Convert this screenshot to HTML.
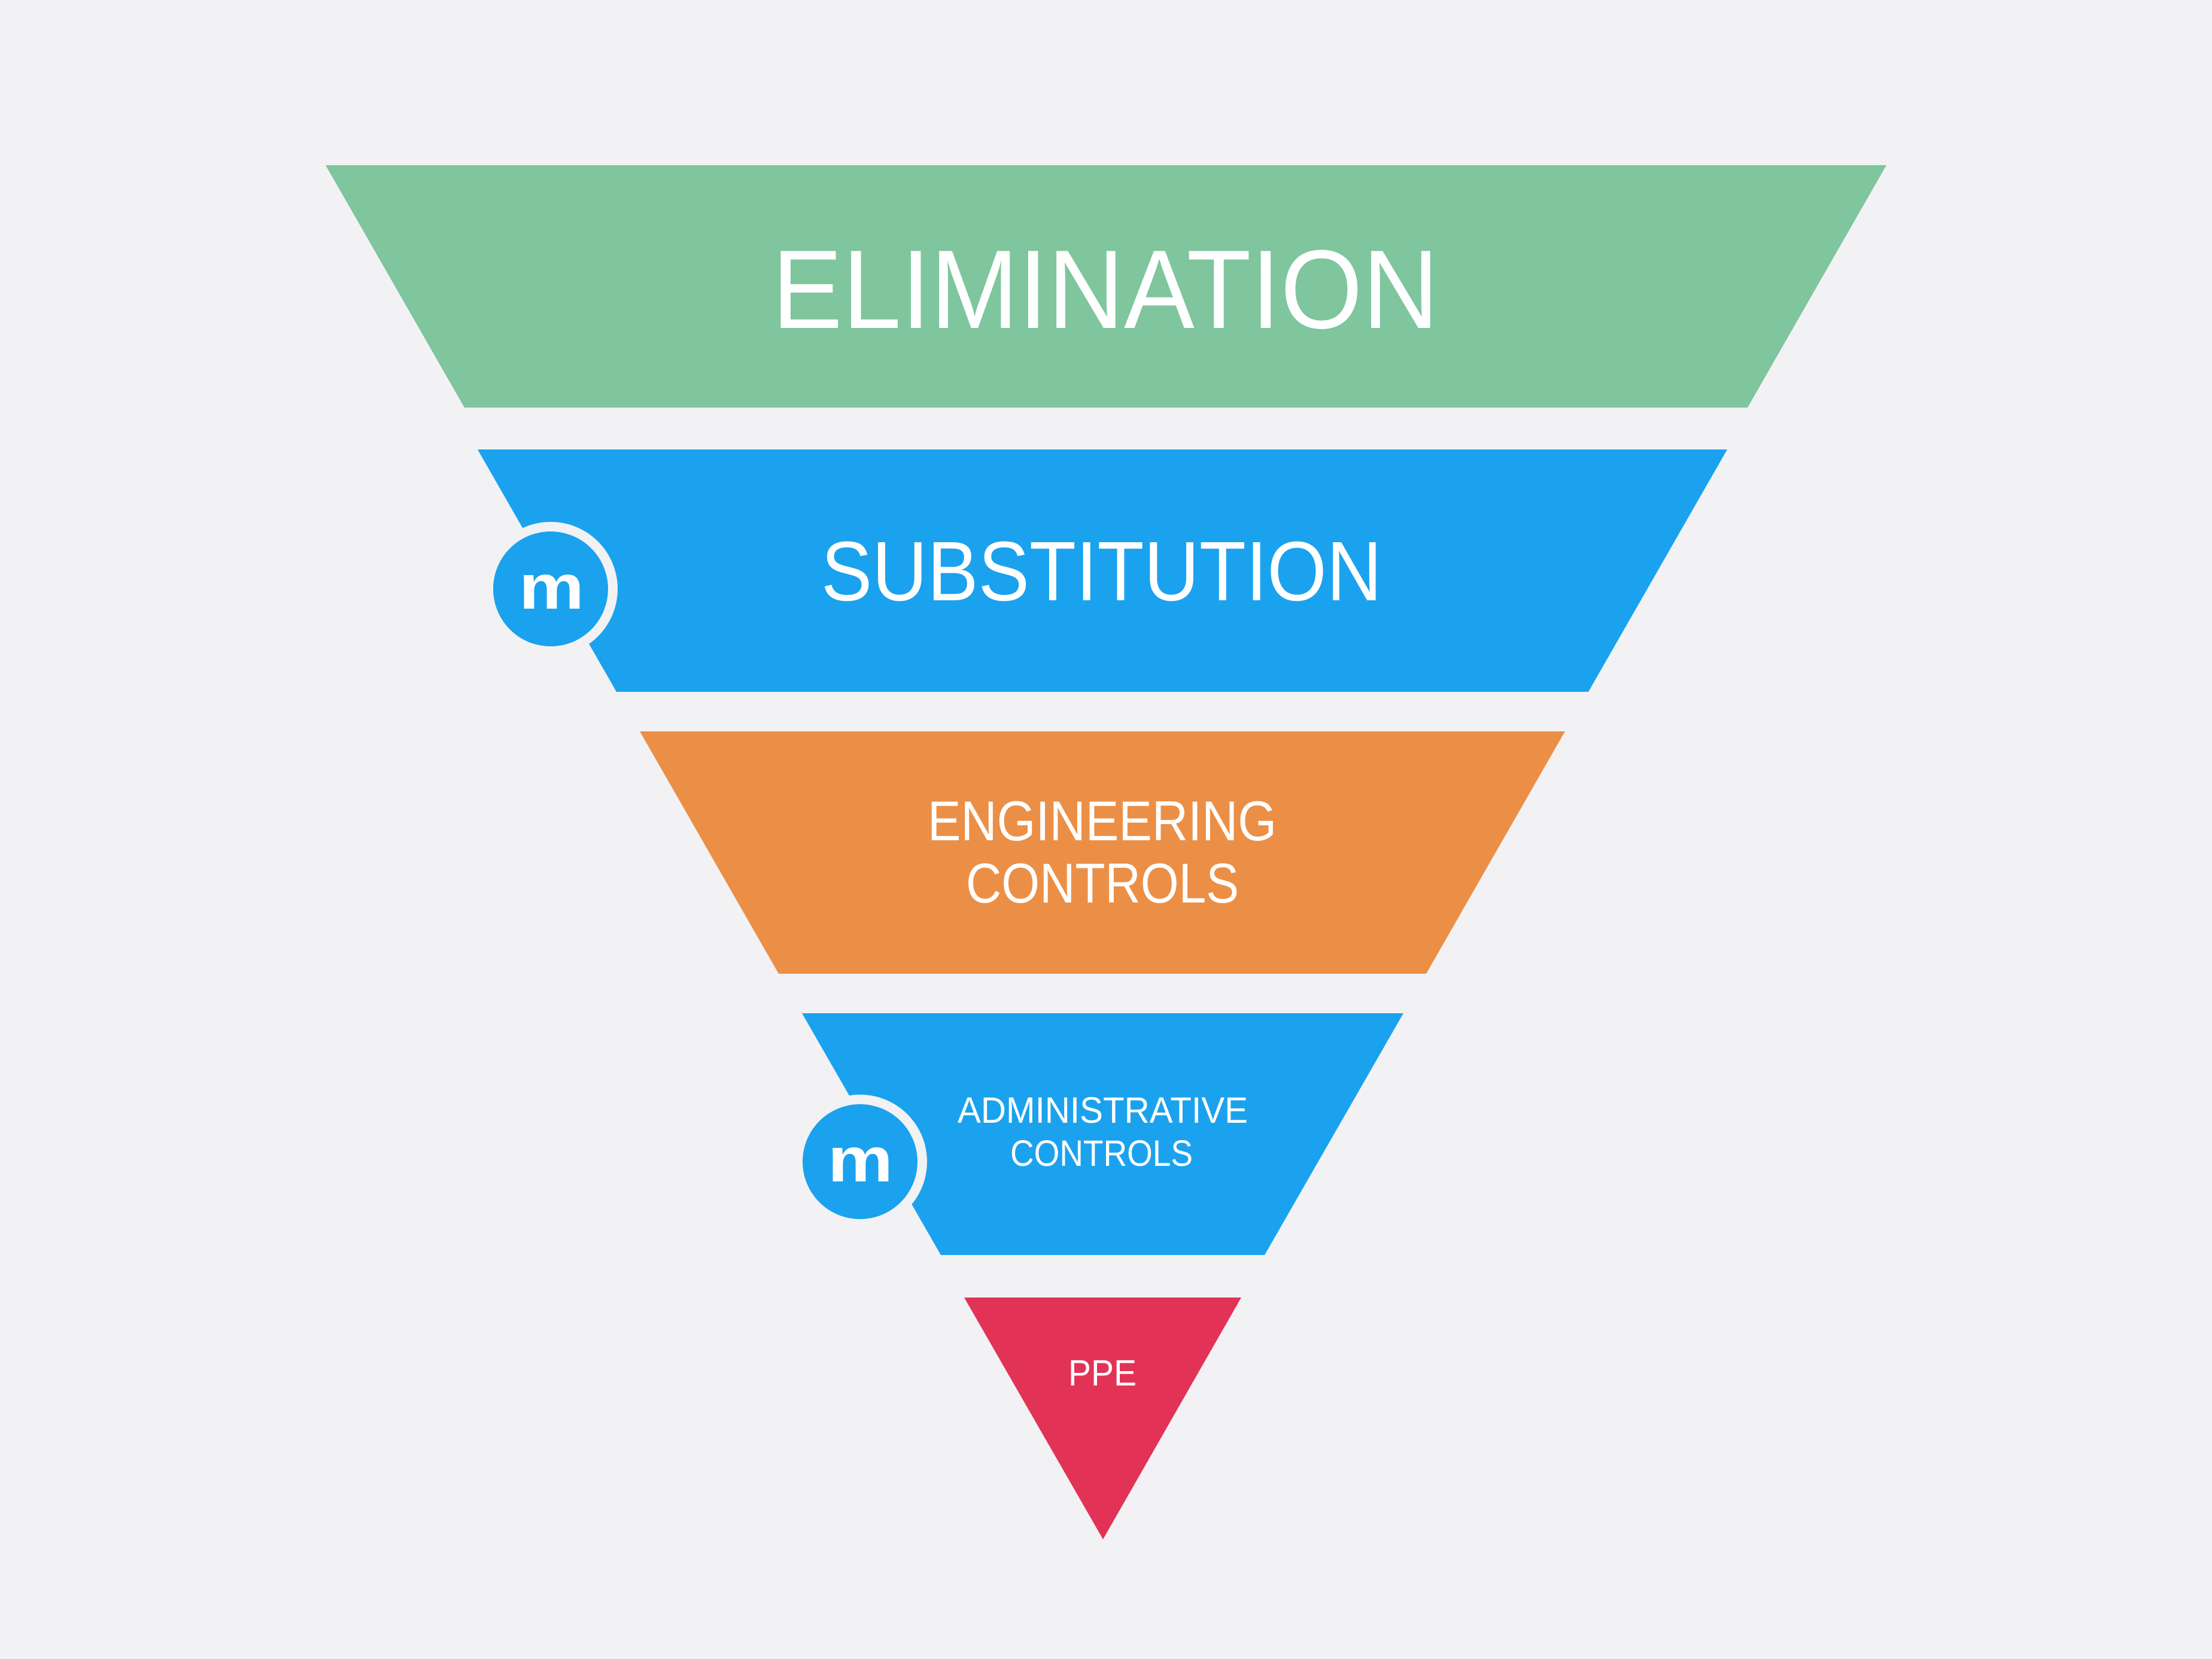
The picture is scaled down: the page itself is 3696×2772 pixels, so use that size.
<!DOCTYPE html>
<html>
<head>
<meta charset="utf-8">
<style>
  html, body { margin:0; padding:0; background:#f2f2f4; }
  body { width:3696px; height:2772px; overflow:hidden; }
  svg { display:block; }
  text { font-family: "Liberation Sans", "DejaVu Sans", sans-serif; fill:#ffffff; }
</style>
</head>
<body>
<svg width="3696" height="2772" viewBox="0 0 3696 2772" xmlns="http://www.w3.org/2000/svg">
  <rect x="0" y="0" width="3696" height="2772" fill="#f2f2f4"/>

  <!-- Elimination -->
  <polygon points="544,276 3152,276 2920,681 776,681" fill="#7fc59d"/>
  <text x="1290" y="548" font-size="187" textLength="1114" lengthAdjust="spacingAndGlyphs">ELIMINATION</text>

  <!-- Substitution -->
  <polygon points="798,751 2886,751 2654,1156 1030,1156" fill="#1ba2ee"/>
  <text x="1372" y="1003" font-size="141" textLength="937" lengthAdjust="spacingAndGlyphs">SUBSTITUTION</text>
  <circle cx="920" cy="984" r="112" fill="#f2f2f4"/>
  <circle cx="920" cy="984" r="96" fill="#1ba2ee"/>
  <text x="867" y="1017" font-size="106" font-weight="bold" textLength="109" lengthAdjust="spacingAndGlyphs">m</text>

  <!-- Engineering controls -->
  <polygon points="1069,1222 2615,1222 2383,1627 1301,1627" fill="#ec8f46"/>
  <text x="1550" y="1404" font-size="93.6" textLength="583" lengthAdjust="spacingAndGlyphs">ENGINEERING</text>
  <text x="1614" y="1508" font-size="93.6" textLength="456" lengthAdjust="spacingAndGlyphs">CONTROLS</text>

  <!-- Administrative controls -->
  <polygon points="1340,1693 2345,1693 2113,2097 1572,2097" fill="#1ba2ee"/>
  <text x="1600" y="1876" font-size="61.5" textLength="485" lengthAdjust="spacingAndGlyphs">ADMINISTRATIVE</text>
  <text x="1688" y="1948" font-size="61.5" textLength="305" lengthAdjust="spacingAndGlyphs">CONTROLS</text>
  <circle cx="1437" cy="1941" r="112" fill="#f2f2f4"/>
  <circle cx="1437" cy="1941" r="96" fill="#1ba2ee"/>
  <text x="1383" y="1974" font-size="106" font-weight="bold" textLength="109" lengthAdjust="spacingAndGlyphs">m</text>

  <!-- PPE -->
  <polygon points="1611,2168 2074,2168 1843,2572" fill="#e23357"/>
  <text x="1785" y="2315" font-size="61.5" textLength="114" lengthAdjust="spacingAndGlyphs">PPE</text>
</svg>
</body>
</html>
